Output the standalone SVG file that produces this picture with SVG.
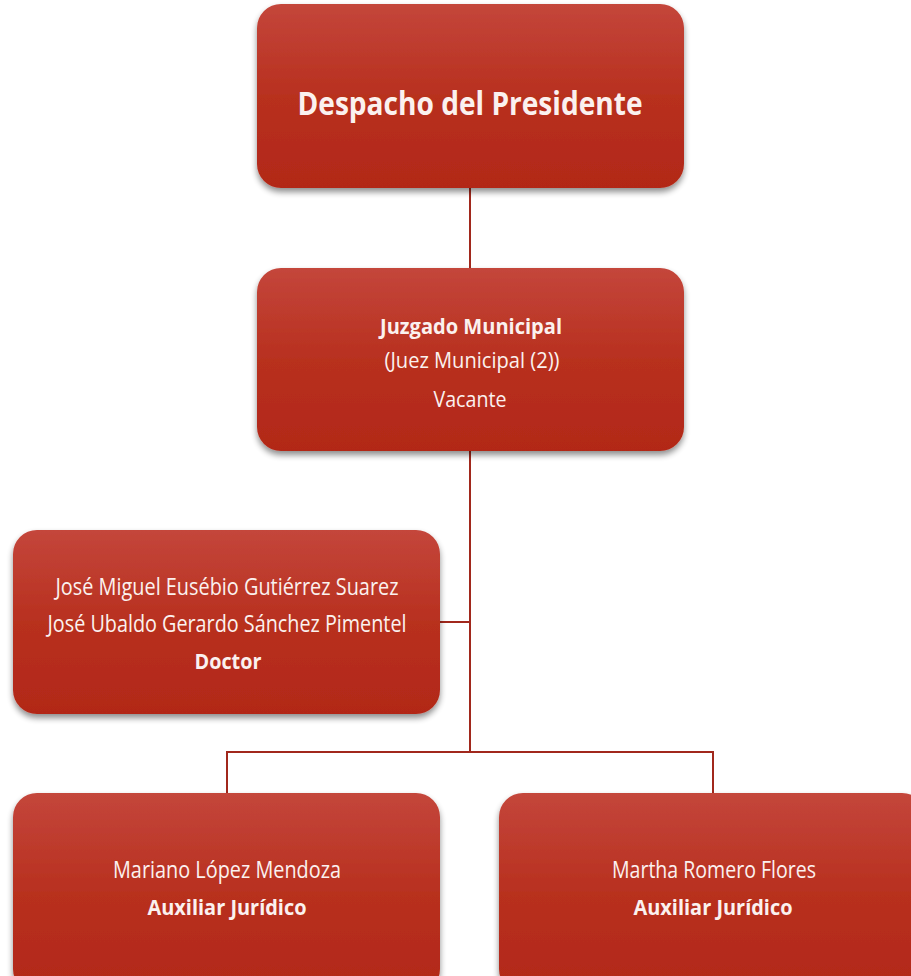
<svg xmlns="http://www.w3.org/2000/svg" width="911" height="976" viewBox="0 0 911 976">
<defs>
<linearGradient id="g" x1="0" y1="0" x2="0" y2="1">
<stop offset="0" stop-color="#c4463b"/>
<stop offset="0.5" stop-color="#b8301f"/>
<stop offset="1" stop-color="#b22818"/>
</linearGradient>
<filter id="sh" x="-5%" y="-5%" width="110%" height="120%">
<feGaussianBlur in="SourceAlpha" stdDeviation="3"/>
<feOffset dx="0" dy="4" result="b"/>
<feComponentTransfer><feFuncA type="linear" slope="0.45"/></feComponentTransfer>
<feMerge><feMergeNode/><feMergeNode in="SourceGraphic"/></feMerge>
</filter>
</defs>
<style>
.box{fill:url(#g);filter:url(#sh);}
.t{font-family:"Open Sans","Noto Sans","Liberation Sans",sans-serif;fill:#fbf1ef;text-anchor:middle;}
.b{font-weight:bold;}
.c{fill:none;stroke:#a1281c;stroke-width:2;}
</style>
<rect width="911" height="976" fill="#ffffff"/>
<g id="connectors">
<line class="c" x1="470" y1="188" x2="470" y2="268"/>
<line class="c" x1="470" y1="451" x2="470" y2="752"/>
<line class="c" x1="440" y1="622" x2="470" y2="622"/>
<polyline class="c" points="227,793 227,752 713,752 713,793"/>
</g>
<g id="n1">
<rect class="box" x="257" y="4" width="427" height="184" rx="24"/>
<text class="t b" x="470" y="115" font-size="32" textLength="345" lengthAdjust="spacingAndGlyphs">Despacho del Presidente</text>
</g>
<g id="n2">
<rect class="box" x="257" y="268" width="427" height="183" rx="24"/>
<text class="t b" x="471" y="334" font-size="22" textLength="182" lengthAdjust="spacingAndGlyphs">Juzgado Municipal</text>
<text class="t" x="472" y="368" font-size="22" textLength="175" lengthAdjust="spacingAndGlyphs">(Juez Municipal (2))</text>
<text class="t" x="470" y="407" font-size="22" textLength="73" lengthAdjust="spacingAndGlyphs">Vacante</text>
</g>
<g id="n3">
<rect class="box" x="13" y="530" width="427" height="184" rx="24"/>
<text class="t" x="227" y="595" font-size="24" textLength="343" lengthAdjust="spacingAndGlyphs">José Miguel Eusébio Gutiérrez Suarez</text>
<text class="t" x="227" y="632" font-size="24" textLength="359" lengthAdjust="spacingAndGlyphs">José Ubaldo Gerardo Sánchez Pimentel</text>
<text class="t b" x="228" y="669" font-size="22" textLength="67" lengthAdjust="spacingAndGlyphs">Doctor</text>
</g>
<g id="n4">
<rect class="box" x="13" y="793" width="427" height="200" rx="24"/>
<text class="t" x="227" y="878" font-size="24" textLength="228" lengthAdjust="spacingAndGlyphs">Mariano López Mendoza</text>
<text class="t b" x="227" y="915" font-size="22" textLength="159" lengthAdjust="spacingAndGlyphs">Auxiliar Jurídico</text>
</g>
<g id="n5">
<rect class="box" x="499" y="793" width="427" height="200" rx="24"/>
<text class="t" x="714" y="878" font-size="24" textLength="204" lengthAdjust="spacingAndGlyphs">Martha Romero Flores</text>
<text class="t b" x="713" y="915" font-size="22" textLength="159" lengthAdjust="spacingAndGlyphs">Auxiliar Jurídico</text>
</g>
</svg>
